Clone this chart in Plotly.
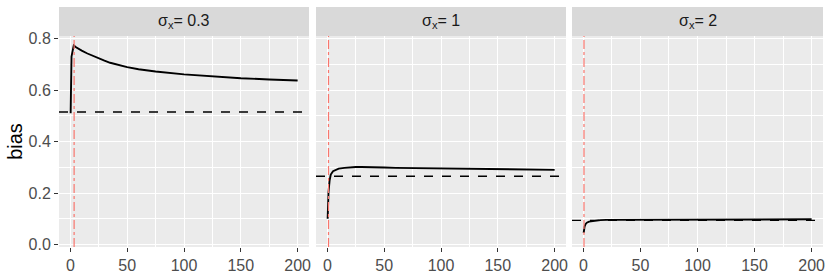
import plotly.graph_objects as go

# ---- data ----
panel_labels = ["σ<sub>x</sub>= 0.3", "σ<sub>x</sub>= 1", "σ<sub>x</sub>= 2"]
x_vals = [0.25, 0.4, 1, 2, 3, 5, 7.5, 10, 15, 20, 25, 30, 35, 40, 50, 60, 75, 100, 125, 150, 175, 200]
bias_s03 = [0.51, 0.715, 0.73, 0.752, 0.773, 0.766, 0.759, 0.753, 0.742, 0.732, 0.722, 0.714, 0.706,
            0.700, 0.689, 0.681, 0.672, 0.661, 0.653, 0.646, 0.641, 0.637]
bias_s1 = [0.10, 0.15, 0.204, 0.25, 0.272, 0.285, 0.291, 0.295, 0.298, 0.300, 0.301, 0.301, 0.300,
           0.300, 0.299, 0.298, 0.297, 0.296, 0.294, 0.293, 0.291, 0.290]
bias_s2 = [0.045, 0.055, 0.07, 0.08, 0.085, 0.089, 0.091, 0.093, 0.095, 0.096, 0.096, 0.097, 0.097,
           0.097, 0.097, 0.097, 0.097, 0.097, 0.097, 0.097, 0.098, 0.098]
series = [bias_s03, bias_s1, bias_s2]
ref_bias = [0.515, 0.265, 0.094]      # dashed horizontal reference
ref_x = [3.3, 1.0, 0.5]               # red dash-dot vertical reference
x_ticks = [0, 50, 100, 150, 200]
y_ticks = [0.0, 0.2, 0.4, 0.6, 0.8]

# ---- layout geometry ----
W, H = 830, 277
ml, mr, mt, mb = 59, 7, 7, 30
pw = W - ml - mr
ph = H - mt - mb
strip_h = 29
ytop = (ph - strip_h) / ph
doms = [(0, 250 / pw), (257 / pw, 507 / pw), (513 / pw, 1.0)]

FONT = "Liberation Sans, Arial, sans-serif"
fig = go.Figure()

for i in range(3):
    xa = "x" if i == 0 else f"x{i+1}"
    ya = "y" if i == 0 else f"y{i+1}"
    fig.add_trace(go.Scatter(x=x_vals, y=series[i], mode="lines",
                             line=dict(color="black", width=1.9),
                             xaxis=xa, yaxis=ya, showlegend=False, hoverinfo="skip"))
    fig.add_shape(type="line", xref=f"{xa} domain", yref=ya, x0=0, x1=1,
                  y0=ref_bias[i], y1=ref_bias[i],
                  line=dict(color="black", width=1.4, dash="dash"))
    fig.add_shape(type="line", xref=xa, yref=f"{ya} domain", x0=ref_x[i], x1=ref_x[i],
                  y0=0, y1=1, line=dict(color="#F8766D", width=1.2, dash="dashdot"))
    # strip
    fig.add_shape(type="rect", xref=f"{xa} domain", yref="paper", x0=0, x1=1,
                  y0=ytop, y1=1, fillcolor="#D9D9D9", line=dict(width=0), layer="below")
    fig.add_annotation(xref=f"{xa} domain", yref="paper", x=0.5, y=(ytop + 1) / 2,
                       text=panel_labels[i], showarrow=False, xanchor="center", yanchor="middle",
                       font=dict(family=FONT, size=16, color="#1A1A1A"))

    axis_common = dict(showline=False, zeroline=False, gridcolor="white", gridwidth=1.3,
                       ticks="outside", ticklen=4, tickcolor="#333333", tickwidth=1,
                       automargin=False,
                       tickfont=dict(family=FONT, size=16, color="#4D4D4D"))
    fig.layout[("xaxis" if i == 0 else f"xaxis{i+1}")] = dict(
        domain=list(doms[i]), anchor=ya, range=[-10, 210], tickvals=x_ticks,
        minor=dict(dtick=25, tick0=25, showgrid=True, gridcolor="white", gridwidth=0.6, ticks=""),
        **axis_common)
    ydict = dict(domain=[0, ytop], anchor=xa, range=[-0.0095, 0.81], tickvals=y_ticks,
                 ticktext=[f"{v:.1f}" for v in y_ticks],
                 minor=dict(dtick=0.2, tick0=0.1, showgrid=True, gridcolor="white", gridwidth=0.6, ticks=""),
                 **axis_common)
    if i > 0:
        ydict.update(showticklabels=False, ticks="", matches="y")
    else:
        ydict.update(title=dict(text="bias", font=dict(family=FONT, size=20, color="black"), standoff=0))
    fig.layout[("yaxis" if i == 0 else f"yaxis{i+1}")] = ydict

fig.update_layout(width=W, height=H, margin=dict(l=ml, r=mr, t=mt, b=mb, autoexpand=False),
                  plot_bgcolor="#EBEBEB", paper_bgcolor="white",
                  font=dict(family=FONT))
fig.write_html("out.html", config={"displayModeBar": False},
               post_script="document.body.style.margin='0';document.body.style.overflow='hidden';")
